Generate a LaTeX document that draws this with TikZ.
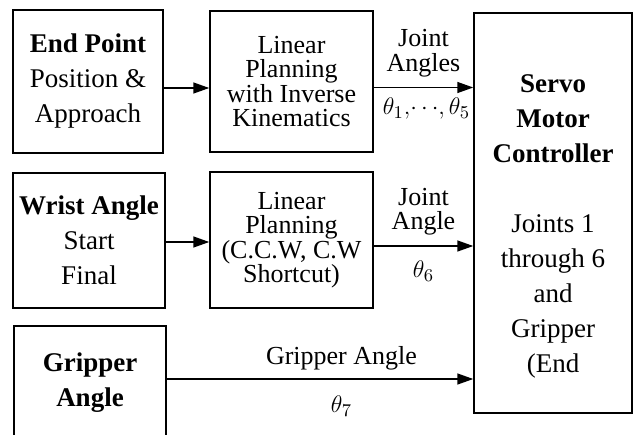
\documentclass[tikz,border=0pt]{standalone}
\usepackage{fontspec}
\setmainfont{Liberation Serif}
\usetikzlibrary{arrows.meta,positioning,calc}
\newcommand{\bodyfont}{\fontsize{13.5}{17.5}\selectfont}
\newcommand{\tightfont}{\fontsize{13}{12.2}\selectfont}
\tikzset{
  box/.style={draw,line width=0.75pt,inner sep=0pt,align=center,font=\bodyfont},
  tbox/.style={box,font=\tightfont},
  lbl/.style={align=center,font=\tightfont,inner sep=2pt},
  ar/.style={-{Triangle[length=8pt,width=5.5pt]},line width=0.75pt},
}
\begin{document}
\begin{tikzpicture}[x=0.5pt,y=-0.5pt]
  \path[use as bounding box,fill=white] (0,0) rectangle (637,434);
  % ---- input boxes
  \node[box,minimum width=75pt,minimum height=71.5pt] (ep) at (88,81.5)
       {\textbf{End Point}\\Position \&\\Approach};
  \node[box,minimum width=76pt,minimum height=67.5pt] (wr) at (89,240.5)
       {\textbf{Wrist Angle}\\Start\\Final};
  \node[box,minimum width=76pt,minimum height=57pt] (gr) at (90,383)
       {\textbf{Gripper}\\\textbf{Angle}};

  % ---- planners
  \node[tbox,minimum width=81.5pt,minimum height=70.5pt] (lp1) at (291.5,81.5)
       {Linear\\Planning\\with Inverse\\Kinematics};
  \node[tbox,minimum width=81.5pt,minimum height=68pt] (lp2) at (291.5,240)
       {Linear\\Planning\\(C.C.W, C.W\\Shortcut)};

  % ---- controller
  \node[box,minimum width=79pt,minimum height=200pt] (servo) at (553,213) {};
  \node[align=center,font=\bodyfont,inner sep=0pt] (servotxt) at (553,226)
       {\textbf{Servo}\\\textbf{Motor}\\\textbf{Controller}\\[17.5pt]Joints 1\\through 6\\and\\Gripper\\(End};

  % ---- connectors
  \draw[ar] ([yshift=-3.25pt]ep.east) coordinate (a0) -- (a0 -| lp1.west);
  \draw[ar] ([yshift=-3pt]lp1.east) coordinate (a1) -- (a1 -| servo.west)
    node[lbl,above,pos=0.5,inner sep=5pt] (ja) {Joint\\Angles}
    node[lbl,below,pos=0.53,inner sep=5pt] (th15) {$\theta_1,\!\cdots\!,\theta_5$};
  \draw[ar] ([yshift=-0.75pt]wr.east) coordinate (a2) -- (a2 -| lp2.west);
  \draw[ar] ([yshift=-3pt]lp2.east) coordinate (a3) -- (a3 -| servo.west)
    node[lbl,above,pos=0.5,inner sep=5pt] (jb) {Joint\\Angle}
    node[lbl,below,pos=0.5,inner sep=7pt] (th6) {$\theta_6$};
  \draw[ar] ([yshift=2pt]gr.east) coordinate (a4) -- (a4 -| servo.west)
    node[lbl,above,pos=0.57,inner sep=4pt] (ga) {Gripper Angle}
    node[lbl,below,pos=0.57,inner sep=8pt] (th7) {$\theta_7$};
\end{tikzpicture}
\end{document}
